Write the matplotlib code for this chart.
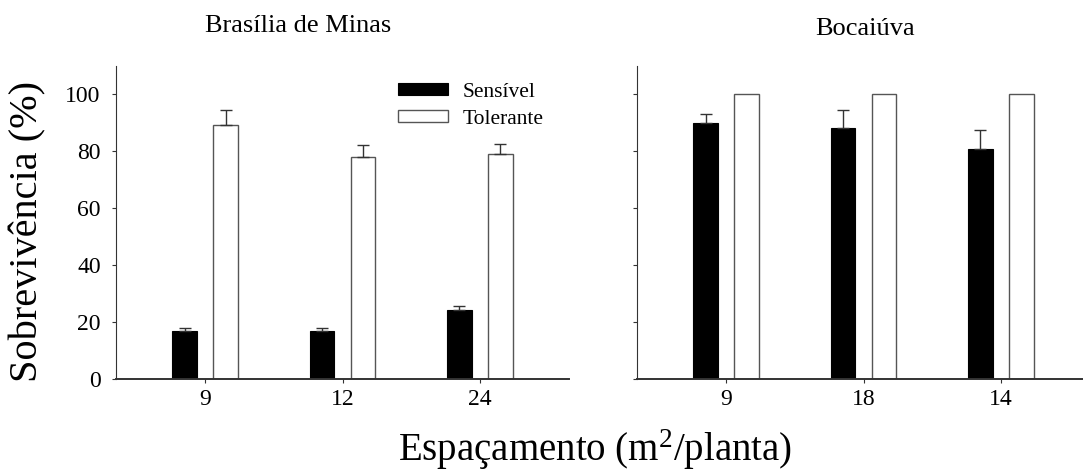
import matplotlib
matplotlib.use("Agg")
import matplotlib.pyplot as plt
import numpy as np

plt.rcParams['font.family'] = ['Liberation Serif', 'DejaVu Serif']
plt.rcParams['mathtext.fontset'] = 'custom'
plt.rcParams['mathtext.rm'] = 'Liberation Serif'
plt.rcParams['mathtext.it'] = 'Liberation Serif:italic'
plt.rcParams['mathtext.bf'] = 'Liberation Serif:bold'

# ---- data ----
site_left = "Brasília de Minas"
site_right = "Bocaiúva"
cats_left = ["9", "12", "24"]
cats_right = ["9", "18", "14"]
series_names = ["Sensível", "Tolerante"]

sens_left = [17.0, 17.0, 24.1]
sens_left_err = [0.8, 0.8, 1.5]
tol_left = [89.3, 78.1, 79.0]
tol_left_err = [5.3, 4.2, 3.7]

sens_right = [90.1, 88.1, 81.0]
sens_right_err = [3.1, 6.6, 6.6]
tol_right = [100, 100, 100]
tol_right_err = [0, 0, 0]

yticks = [0, 20, 40, 60, 80, 100]

# ---- figure ----
W, H = 1083, 473
fig = plt.figure(figsize=(W / 100, H / 100), dpi=100)

def px_axes(x0, x1, ytop, ybot):
    return [x0 / W, (H - ybot) / H, (x1 - x0) / W, (ybot - ytop) / H]

ax1 = fig.add_axes(px_axes(116, 569, 66, 379))
ax2 = fig.add_axes(px_axes(637, 1090, 66, 379))

bw = 0.18
off = 0.15
spine_col = '#333333'

def draw(ax, cats, s, se, t, te):
    x = np.arange(len(cats))
    b1 = ax.bar(x - off, s, bw, color='black', edgecolor='black', linewidth=0.8,
                label=series_names[0], zorder=2)
    b2 = ax.bar(x + off, t, bw, color='white', edgecolor='#555555', linewidth=1.0,
                label=series_names[1], zorder=2)
    z = np.zeros(len(cats))
    ax.errorbar(x - off, s, yerr=[z, se], fmt='none', ecolor='#333333',
                elinewidth=1.0, capsize=4, capthick=1.0, zorder=3)
    if any(v > 0 for v in te):
        ax.errorbar(x + off, t, yerr=[z, te], fmt='none', ecolor='#333333',
                    elinewidth=1.0, capsize=4, capthick=1.0, zorder=3)
    ax.set_xlim(-0.65, 2.65)
    ax.set_ylim(0, 110)
    ax.set_xticks(x)
    ax.set_xticklabels(cats)
    ax.set_yticks(yticks)
    for sp in ['top', 'right']:
        ax.spines[sp].set_visible(False)
    ax.spines['left'].set_color(spine_col)
    ax.spines['left'].set_linewidth(0.8)
    ax.spines['bottom'].set_color(spine_col)
    ax.spines['bottom'].set_linewidth(1.4)
    ax.tick_params(axis='x', direction='out', length=3, width=0.8,
                   color=spine_col, labelsize=17, pad=4)
    ax.tick_params(axis='y', direction='out', length=3, width=0.8,
                   color=spine_col, labelsize=17, pad=8)
    return b1, b2

b1, b2 = draw(ax1, cats_left, sens_left, sens_left_err, tol_left, tol_left_err)
draw(ax2, cats_right, sens_right, sens_right_err, tol_right, tol_right_err)
ax2.tick_params(axis='y', labelleft=False)

ax1.legend([b1, b2], series_names, loc='upper left',
           bbox_to_anchor=(398 / W, (H - 83) / H), bbox_transform=fig.transFigure,
           frameon=False, fontsize=15.5, handlelength=2.3, handleheight=0.5,
           handletextpad=0.7, labelspacing=0.35, borderpad=0, borderaxespad=0)

fig.text(298 / W, (H - 26) / H, site_left, ha='center', va='center', fontsize=19)
fig.text(865 / W, (H - 29) / H, site_right, ha='center', va='center', fontsize=19)

fig.text(28 / W, (H - 232) / H, "Sobrevivência (%)", rotation=90,
         ha='center', va='center', fontsize=29)
fig.text(595 / W, (H - 461) / H, "Espaçamento (m$^{2}$/planta)",
         ha='center', va='baseline', fontsize=28)

fig.savefig("out.png", dpi=100)
